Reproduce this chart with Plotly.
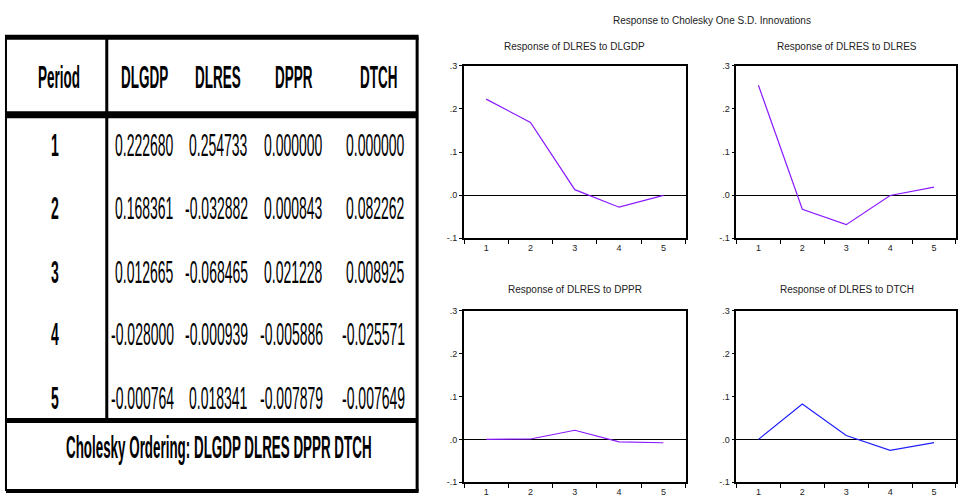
import plotly.graph_objects as go

# ---------------- data ----------------
periods = [1, 2, 3, 4, 5]
shock_names = ["DLGDP", "DLRES", "DPPR", "DTCH"]
resp_dlgdp = [0.222680, 0.168361, 0.012665, -0.028000, -0.000764]
resp_dlres = [0.254733, -0.032882, -0.068465, -0.000939, 0.018341]
resp_dppr = [0.000000, 0.000843, 0.021228, -0.005886, -0.007879]
resp_dtch = [0.000000, 0.082262, 0.008925, -0.025571, -0.007649]
y_tick_vals = [-0.1, 0.0, 0.1, 0.2, 0.3]
y_tick_text = ["-.1", ".0", ".1", ".2", ".3"]
main_title = "Response to Cholesky One S.D. Innovations"
response_var = "DLRES"
ordering_text = "Cholesky Ordering: DLGDP DLRES DPPR DTCH"

series = [resp_dlgdp, resp_dlres, resp_dppr, resp_dtch]
line_colors = ["#8B1AFF", "#8B1AFF", "#8B1AFF", "#1F1FFF"]

W, H = 958, 500
FONT = "Liberation Sans Narrow, Arial Narrow, Liberation Sans, Arial, sans-serif"


def px(x):
    return x / W


def py(y):
    return 1 - y / H


fig = go.Figure()

# ---------------- impulse response panels ----------------
x_doms = [(465, 687), (738, 959), (465, 687), (738, 959)]
y_doms = [(62, 238), (62, 238), (312, 487), (312, 487)]
title_y = [42, 42, 290, 290]

annotations = []
for i, (vals, name) in enumerate(zip(series, shock_names)):
    idx = "" if i == 0 else str(i + 1)
    fig.add_trace(go.Scatter(
        x=periods, y=vals, mode="lines",
        line=dict(color=line_colors[i], width=1.2),
        xaxis="x" + idx, yaxis="y" + idx, showlegend=False,
        hoverinfo="x+y",
    ))
    x0, x1 = x_doms[i]
    y0, y1 = y_doms[i]
    xd = [px(x0), min(1.0, px(x1))]
    yd = [py(y1), py(y0)]
    fig.layout["xaxis" + idx] = dict(
        domain=xd, anchor="y" + idx, range=[0.5, 5.5],
        tickvals=periods, ticktext=[str(p) for p in periods],
        ticks="", showgrid=False, zeroline=False,
        showline=True, linecolor="black", linewidth=1.8, mirror=True,
        tickfont=dict(size=9, family=FONT, color="#222"),
        minor=dict(tickvals=[p - 0.5 for p in periods] + [periods[-1] + 0.5],
                   ticks="outside", ticklen=4, tickcolor="black", tickwidth=1,
                   showgrid=False),
        fixedrange=True,
    )
    fig.layout["yaxis" + idx] = dict(
        domain=yd, anchor="x" + idx, range=[-0.1, 0.3],
        tickvals=y_tick_vals, ticktext=y_tick_text,
        ticks="outside", ticklen=3, tickcolor="black", tickwidth=1,
        showgrid=False, zeroline=True, zerolinecolor="black", zerolinewidth=1,
        showline=True, linecolor="black", linewidth=1.8, mirror=True,
        tickfont=dict(size=9, family=FONT, color="#222"),
        fixedrange=True,
    )
    annotations.append(dict(
        text=f"Response of {response_var} to {name}",
        x=px((x0 + x1) / 2), y=py(title_y[i]), xref="paper", yref="paper",
        xanchor="center", yanchor="middle", showarrow=False,
        font=dict(size=10, family=FONT, color="#222"),
    ))

annotations.append(dict(
    text=main_title, x=px(713), y=py(16), xref="paper", yref="paper",
    xanchor="center", yanchor="middle", showarrow=False,
    font=dict(size=10, family=FONT, color="#222"),
))
N_CHART_ANN = len(annotations)

# ---------------- table ----------------
T_LEFT, T_RIGHT, T_TOP = 6, 418, 33
HDR_LINE, DIV_X, BODY_BOTTOM, T_BOTTOM = 112, 107, 424, 496
shapes = []


def hline(y, x0, x1, w):
    shapes.append(dict(type="line", xref="paper", yref="paper",
                       x0=px(x0), x1=px(x1), y0=py(y), y1=py(y),
                       line=dict(color="black", width=w)))


def vline(x, y0, y1, w):
    shapes.append(dict(type="line", xref="paper", yref="paper",
                       x0=px(x), x1=px(x), y0=py(y0), y1=py(y1),
                       line=dict(color="black", width=w)))


hline(T_TOP, T_LEFT - 1, T_RIGHT + 1.5, 5)
hline(HDR_LINE, T_LEFT, T_RIGHT, 7)
hline(BODY_BOTTOM, T_LEFT, T_RIGHT, 5)
hline(T_BOTTOM, T_LEFT, T_RIGHT + 1.5, 4)
vline(T_LEFT, T_TOP, T_BOTTOM, 2)
vline(T_RIGHT, T_TOP, T_BOTTOM, 3)
vline(DIV_X, T_TOP, BODY_BOTTOM, 3)

hdr_y = 74
row_ys = [143, 207, 272, 336, 401]
period_x = 55
hdr_centers = [145, 218, 295, 380]
num_right = [176, 251, 326, 408]

annotations.append(dict(
    text="<b>Period</b>", x=px(59), y=py(hdr_y), xref="paper", yref="paper",
    xanchor="center", yanchor="middle", showarrow=False,
    font=dict(size=13.5, family=FONT, color="black"),
))
for c, name in enumerate(shock_names):
    annotations.append(dict(
        text=f"<b>{name}</b>", x=px(hdr_centers[c]), y=py(hdr_y),
        xref="paper", yref="paper", xanchor="center", yanchor="middle",
        showarrow=False, font=dict(size=13.5, family=FONT, color="black"),
    ))
for r, p in enumerate(periods):
    annotations.append(dict(
        text=f"<b>{p}</b>", x=px(period_x), y=py(row_ys[r]),
        xref="paper", yref="paper", xanchor="center", yanchor="middle",
        showarrow=False, font=dict(size=14, family=FONT, color="black"),
    ))
    for c, vals in enumerate(series):
        annotations.append(dict(
            text=f"{vals[r]:.6f}", x=px(num_right[c]), y=py(row_ys[r]),
            xref="paper", yref="paper", xanchor="right", yanchor="middle",
            showarrow=False, font=dict(size=14, family=FONT, color="black"),
        ))
annotations.append(dict(
    text=f"<b>{ordering_text}</b>", x=px(219), y=py(452),
    xref="paper", yref="paper", xanchor="center", yanchor="middle",
    showarrow=False, font=dict(size=13.4, family=FONT, color="black"),
))

fig.update_layout(
    width=W, height=H,
    margin=dict(l=0, r=0, t=0, b=0),
    paper_bgcolor="white", plot_bgcolor="white",
    annotations=annotations, shapes=shapes,
    showlegend=False,
)

# Remove the page margin and give the table text its tall, condensed look
post_js = """
document.body.style.margin = '0';
var gd = document.getElementById('{plot_id}');
gd.querySelectorAll('g.annotation').forEach(function (g) {
  var i = parseInt(g.getAttribute('data-index'));
  if (i >= %d) {
    var t = g.querySelector('text.annotation-text');
    if (t) {
      t.style.transformBox = 'fill-box';
      t.style.transformOrigin = '50%% 50%%';
      t.style.transform = 'scaleY(2.3)';
    }
  }
});
""" % N_CHART_ANN

fig.write_html("out.html", post_script=post_js,
               config={"displayModeBar": False, "staticPlot": False})
